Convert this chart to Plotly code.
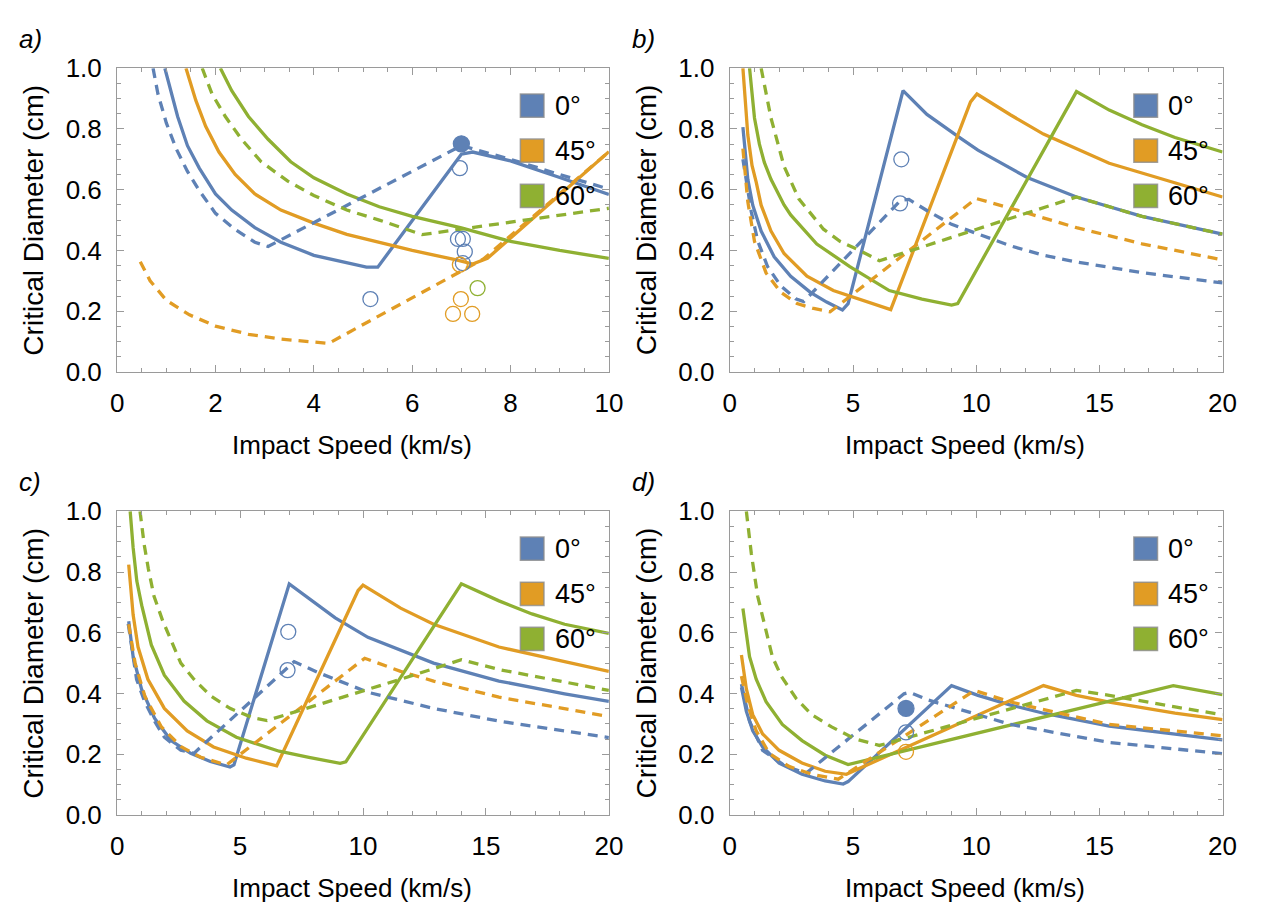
import plotly.graph_objects as go

BLUE = "#5E81B5"
ORANGE = "#E19C24"
GREEN = "#8FB032"
FONT = "Liberation Sans, Arial, sans-serif"

# ---------------- panel a ----------------
a_blue_solid_x = [0.97, 1.07, 1.23, 1.43, 1.67, 2.0, 2.33, 2.8, 3.33, 4.0, 4.67, 5.07, 5.3, 7.0, 7.23, 8.0, 9.0, 10.0]
a_blue_solid_y = [1.0, 0.936, 0.841, 0.745, 0.671, 0.586, 0.533, 0.475, 0.427, 0.384, 0.358, 0.345, 0.345, 0.717, 0.724, 0.695, 0.64, 0.584]
a_blue_dash_x = [0.73, 0.83, 1.0, 1.2, 1.43, 1.67, 2.0, 2.4, 2.8, 3.07, 7.0, 8.0, 9.0, 10.0]
a_blue_dash_y = [1.0, 0.915, 0.82, 0.735, 0.66, 0.597, 0.522, 0.469, 0.427, 0.413, 0.745, 0.70, 0.65, 0.602]
a_orange_solid_x = [1.4, 1.6, 1.8, 2.07, 2.4, 2.8, 3.33, 4.0, 4.67, 5.33, 6.0, 6.9, 7.23, 7.53, 10.0]
a_orange_solid_y = [1.0, 0.894, 0.809, 0.724, 0.65, 0.586, 0.533, 0.49, 0.453, 0.427, 0.40, 0.369, 0.355, 0.374, 0.725]
a_orange_dash_x = [0.47, 0.67, 1.0, 1.47, 2.0, 2.67, 3.33, 4.0, 4.3, 7.45, 10.0]
a_orange_dash_y = [0.363, 0.30, 0.236, 0.188, 0.151, 0.124, 0.108, 0.098, 0.094, 0.372, 0.725]
a_green_solid_x = [2.1, 2.33, 2.67, 3.07, 3.53, 4.0, 4.67, 5.33, 6.0, 7.0, 8.0, 9.0, 10.0]
a_green_solid_y = [1.0, 0.926, 0.841, 0.766, 0.692, 0.639, 0.586, 0.544, 0.512, 0.474, 0.43, 0.40, 0.374]
a_green_dash_x = [1.73, 1.93, 2.2, 2.53, 2.93, 3.47, 4.0, 4.67, 5.33, 6.0, 6.2, 10.0]
a_green_dash_y = [1.0, 0.915, 0.841, 0.766, 0.692, 0.628, 0.581, 0.533, 0.50, 0.462, 0.452, 0.539]
a_open_blue_x = [6.97, 6.93, 7.03, 7.07, 7.03, 5.15]
a_open_blue_y = [0.671, 0.438, 0.438, 0.396, 0.358, 0.240]
a_open_orange_x = [6.97, 6.99, 6.83, 7.22]
a_open_orange_y = [0.353, 0.240, 0.191, 0.191]
a_open_green_x = [7.33]
a_open_green_y = [0.276]
a_filled_blue_x = [7.0]
a_filled_blue_y = [0.751]

# ---------------- panel b ----------------
b_blue_solid_x = [0.53, 0.73, 0.93, 1.27, 1.8, 2.47, 3.27, 3.93, 4.57, 4.8, 7.03, 8.0, 9.27, 10.07, 12.07, 14.07, 16.73, 20.0]
b_blue_solid_y = [0.806, 0.634, 0.549, 0.464, 0.379, 0.315, 0.262, 0.23, 0.204, 0.225, 0.926, 0.848, 0.775, 0.73, 0.64, 0.576, 0.512, 0.454]
b_blue_dash_x = [0.53, 0.73, 0.87, 1.13, 1.53, 2.07, 2.67, 3.0, 6.93, 7.27, 8.07, 9.0, 10.07, 11.4, 12.73, 14.07, 16.73, 20.0]
b_blue_dash_y = [0.70, 0.60, 0.528, 0.432, 0.347, 0.283, 0.241, 0.232, 0.565, 0.568, 0.528, 0.486, 0.454, 0.415, 0.384, 0.362, 0.327, 0.293]
b_orange_solid_x = [0.53, 0.73, 0.9, 1.07, 1.27, 1.67, 2.2, 3.13, 4.2, 5.4, 6.53, 9.77, 10.03, 11.4, 12.73, 15.4, 18.07, 20.0]
b_orange_solid_y = [1.0, 0.78, 0.68, 0.625, 0.549, 0.464, 0.39, 0.315, 0.268, 0.236, 0.205, 0.889, 0.915, 0.846, 0.783, 0.687, 0.624, 0.576]
b_orange_dash_x = [0.53, 0.73, 1.0, 1.47, 2.07, 2.73, 3.4, 4.07, 10.0, 11.4, 14.07, 16.73, 20.0]
b_orange_dash_y = [0.735, 0.56, 0.43, 0.326, 0.262, 0.225, 0.209, 0.198, 0.571, 0.539, 0.475, 0.422, 0.369]
b_green_solid_x = [0.8, 1.0, 1.2, 1.4, 1.67, 2.2, 2.47, 3.53, 4.87, 6.47, 7.8, 9.0, 9.25, 14.07, 15.4, 16.73, 18.07, 20.0]
b_green_solid_y = [1.0, 0.836, 0.75, 0.69, 0.634, 0.55, 0.517, 0.421, 0.347, 0.268, 0.24, 0.22, 0.225, 0.923, 0.862, 0.814, 0.772, 0.724]
b_green_dash_x = [1.27, 1.5, 1.67, 2.2, 2.8, 3.8, 4.47, 5.27, 6.07, 9.8, 11.4, 14.07, 16.73, 20.0]
b_green_dash_y = [1.0, 0.90, 0.836, 0.677, 0.57, 0.47, 0.43, 0.40, 0.366, 0.464, 0.507, 0.576, 0.512, 0.454]
b_open_blue_x = [6.96, 6.91]
b_open_blue_y = [0.70, 0.555]

# ---------------- panel c ----------------
c_blue_solid_x = [0.47, 0.65, 0.99, 1.52, 2.19, 2.99, 3.79, 4.59, 4.75, 7.0, 8.87, 10.2, 12.87, 15.53, 18.2, 20.0]
c_blue_solid_y = [0.638, 0.521, 0.415, 0.319, 0.245, 0.203, 0.176, 0.158, 0.165, 0.761, 0.649, 0.585, 0.50, 0.441, 0.399, 0.374]
c_blue_dash_x = [0.45, 0.79, 1.12, 1.52, 1.92, 2.59, 3.12, 7.2, 8.2, 10.2, 12.87, 15.53, 20.0]
c_blue_dash_y = [0.63, 0.447, 0.373, 0.309, 0.256, 0.213, 0.203, 0.505, 0.468, 0.404, 0.351, 0.309, 0.255]
c_orange_solid_x = [0.47, 0.65, 0.85, 1.25, 1.92, 2.85, 3.92, 5.25, 6.49, 9.8, 10.0, 11.53, 12.87, 15.53, 18.2, 20.0]
c_orange_solid_y = [0.824, 0.659, 0.553, 0.447, 0.351, 0.277, 0.224, 0.187, 0.162, 0.739, 0.757, 0.681, 0.628, 0.553, 0.505, 0.473]
c_orange_dash_x = [0.47, 0.73, 1.13, 1.8, 2.6, 3.4, 4.45, 10.07, 11.53, 12.87, 15.53, 20.0]
c_orange_dash_y = [0.628, 0.50, 0.39, 0.29, 0.225, 0.19, 0.165, 0.516, 0.473, 0.441, 0.388, 0.324]
c_green_solid_x = [0.53, 0.65, 0.8, 1.0, 1.39, 1.92, 2.72, 3.65, 4.85, 6.59, 7.8, 9.07, 9.3, 14.0, 15.53, 16.87, 18.2, 20.0]
c_green_solid_y = [1.0, 0.88, 0.77, 0.69, 0.56, 0.46, 0.375, 0.31, 0.256, 0.21, 0.19, 0.17, 0.175, 0.761, 0.705, 0.662, 0.628, 0.598]
c_green_dash_x = [0.93, 1.1, 1.27, 1.5, 1.85, 2.19, 2.59, 3.12, 3.79, 4.59, 5.52, 6.1, 10.07, 11.53, 14.0, 15.53, 20.0]
c_green_dash_y = [1.0, 0.89, 0.81, 0.72, 0.64, 0.574, 0.50, 0.447, 0.393, 0.351, 0.32, 0.311, 0.41, 0.447, 0.511, 0.479, 0.41]
c_open_blue_x = [6.96, 6.93]
c_open_blue_y = [0.603, 0.477]

# ---------------- panel d ----------------
d_blue_solid_x = [0.47, 0.67, 0.93, 1.33, 2.0, 2.93, 3.87, 4.6, 4.8, 9.0, 10.07, 11.4, 12.73, 15.4, 18.07, 20.0]
d_blue_solid_y = [0.42, 0.341, 0.277, 0.224, 0.171, 0.134, 0.112, 0.102, 0.11, 0.426, 0.394, 0.362, 0.335, 0.293, 0.266, 0.247]
d_blue_dash_x = [0.47, 0.8, 1.33, 2.27, 3.1, 7.07, 7.3, 8.07, 10.07, 11.4, 15.4, 20.0]
d_blue_dash_y = [0.431, 0.309, 0.213, 0.16, 0.138, 0.399, 0.404, 0.378, 0.33, 0.298, 0.239, 0.202]
d_orange_solid_x = [0.47, 0.67, 0.93, 1.33, 2.0, 2.93, 3.87, 4.73, 12.73, 14.07, 15.4, 18.07, 20.0]
d_orange_solid_y = [0.527, 0.415, 0.33, 0.267, 0.213, 0.171, 0.144, 0.134, 0.426, 0.394, 0.372, 0.335, 0.314]
d_orange_dash_x = [0.47, 0.73, 1.07, 1.6, 2.4, 3.33, 4.4, 9.93, 11.4, 15.4, 20.0]
d_orange_dash_y = [0.457, 0.362, 0.277, 0.203, 0.16, 0.134, 0.118, 0.41, 0.372, 0.298, 0.261]
d_green_solid_x = [0.53, 0.8, 1.07, 1.47, 2.13, 2.93, 3.87, 4.8, 18.0, 20.0]
d_green_solid_y = [0.68, 0.521, 0.447, 0.373, 0.298, 0.245, 0.197, 0.166, 0.426, 0.396]
d_green_dash_x = [0.67, 0.87, 1.13, 1.5, 1.73, 2.1, 2.7, 3.33, 4.13, 5.07, 6.07, 14.07, 15.4, 18.07, 20.0]
d_green_dash_y = [1.0, 0.862, 0.72, 0.59, 0.52, 0.455, 0.383, 0.33, 0.29, 0.251, 0.229, 0.41, 0.394, 0.356, 0.33]
d_open_blue_x = [7.15]
d_open_blue_y = [0.272]
d_open_orange_x = [7.15]
d_open_orange_y = [0.208]
d_filled_blue_x = [7.15]
d_filled_blue_y = [0.351]

legend_labels = ["0°", "45°", "60°"]
panel_labels = ["a)", "b)", "c)", "d)"]
x_title = "Impact Speed (km/s)"
y_title = "Critical Diameter (cm)"

W, H = 1270, 919
fig = go.Figure()

def px_x(X):
    return X / W

def px_y(Y):
    return 1 - Y / H

panels = [
    dict(n="", xr=[0, 10], xd=2, xm=0.5, box=(112, 612, 55, 369)),
    dict(n="2", xr=[0, 20], xd=5, xm=1, box=(735, 1236, 55, 369)),
    dict(n="3", xr=[0, 20], xd=5, xm=1, box=(112, 612, 513, 827)),
    dict(n="4", xr=[0, 20], xd=5, xm=1, box=(735, 1236, 513, 827)),
]

lines = [
    [(a_blue_solid_x, a_blue_solid_y, BLUE, "solid"), (a_orange_solid_x, a_orange_solid_y, ORANGE, "solid"),
     (a_green_solid_x, a_green_solid_y, GREEN, "solid"), (a_blue_dash_x, a_blue_dash_y, BLUE, "dash"),
     (a_orange_dash_x, a_orange_dash_y, ORANGE, "dash"), (a_green_dash_x, a_green_dash_y, GREEN, "dash")],
    [(b_blue_solid_x, b_blue_solid_y, BLUE, "solid"), (b_orange_solid_x, b_orange_solid_y, ORANGE, "solid"),
     (b_green_solid_x, b_green_solid_y, GREEN, "solid"), (b_blue_dash_x, b_blue_dash_y, BLUE, "dash"),
     (b_orange_dash_x, b_orange_dash_y, ORANGE, "dash"), (b_green_dash_x, b_green_dash_y, GREEN, "dash")],
    [(c_blue_solid_x, c_blue_solid_y, BLUE, "solid"), (c_orange_solid_x, c_orange_solid_y, ORANGE, "solid"),
     (c_green_solid_x, c_green_solid_y, GREEN, "solid"), (c_blue_dash_x, c_blue_dash_y, BLUE, "dash"),
     (c_orange_dash_x, c_orange_dash_y, ORANGE, "dash"), (c_green_dash_x, c_green_dash_y, GREEN, "dash")],
    [(d_blue_solid_x, d_blue_solid_y, BLUE, "solid"), (d_orange_solid_x, d_orange_solid_y, ORANGE, "solid"),
     (d_green_solid_x, d_green_solid_y, GREEN, "solid"), (d_blue_dash_x, d_blue_dash_y, BLUE, "dash"),
     (d_orange_dash_x, d_orange_dash_y, ORANGE, "dash"), (d_green_dash_x, d_green_dash_y, GREEN, "dash")],
]

markers = [
    [(a_open_blue_x, a_open_blue_y, BLUE, False), (a_open_orange_x, a_open_orange_y, ORANGE, False),
     (a_open_green_x, a_open_green_y, GREEN, False), (a_filled_blue_x, a_filled_blue_y, BLUE, True)],
    [(b_open_blue_x, b_open_blue_y, BLUE, False)],
    [(c_open_blue_x, c_open_blue_y, BLUE, False)],
    [(d_open_blue_x, d_open_blue_y, BLUE, False), (d_open_orange_x, d_open_orange_y, ORANGE, False),
     (d_filled_blue_x, d_filled_blue_y, BLUE, True)],
]

layout = dict(
    width=W, height=H, margin=dict(l=0, r=0, t=0, b=0),
    paper_bgcolor="white", plot_bgcolor="white", showlegend=False,
    font=dict(family=FONT, size=26, color="black"),
)
annotations = []
shapes = []
FRAME = "#9a9a9a"

for i, p in enumerate(panels):
    n = p["n"]
    xref = "x" + n
    yref = "y" + n
    x0, x1, y0, y1 = p["box"]
    for (xs, ys, col, dash) in lines[i]:
        fig.add_trace(go.Scatter(
            x=xs, y=ys, mode="lines", xaxis=xref, yaxis=yref,
            line=dict(color=col, width=3.3, dash="solid" if dash == "solid" else "10px,7px"),
            hoverinfo="skip"))
    for (xs, ys, col, filled) in markers[i]:
        fig.add_trace(go.Scatter(
            x=xs, y=ys, mode="markers", xaxis=xref, yaxis=yref,
            marker=dict(symbol="circle" if filled else "circle-open", size=16 if filled else 15,
                        color=col, line=dict(color=col, width=1.3)),
            hoverinfo="skip"))
    common = dict(showgrid=False, zeroline=False, showline=True, linecolor=FRAME, linewidth=1.3,
                  mirror="allticks", ticks="inside", ticklen=7, tickwidth=1, tickcolor=FRAME,
                  tickfont=dict(family=FONT, size=26, color="black"))
    layout["xaxis" + n] = dict(common, domain=[px_x(x0), px_x(x1)], range=p["xr"], dtick=p["xd"], tick0=0,
                               anchor=yref, ticklabelstandoff=8,
                               minor=dict(ticks="inside", ticklen=4, dtick=p["xm"], tickcolor=FRAME, tickwidth=1))
    layout["yaxis" + n] = dict(common, domain=[px_y(y1), px_y(y0)], range=[0, 1], dtick=0.2, tick0=0,
                               tickformat=".1f", anchor=xref, ticklabelstandoff=9,
                               minor=dict(ticks="inside", ticklen=4, dtick=0.05, tickcolor=FRAME, tickwidth=1))
    # legend
    sq_top = [26.7, 73.3, 120.0]
    for k, (lab, col) in enumerate(zip(legend_labels, [BLUE, ORANGE, GREEN])):
        shapes.append(dict(type="rect", xref=xref + " domain", yref=yref + " domain",
                           x0=1 - 90 / 500, x1=1 - 66 / 500,
                           y0=1 - (sq_top[k] + 24) / 314, y1=1 - sq_top[k] / 314,
                           fillcolor=col, line=dict(color="rgba(140,140,140,0.8)", width=1.5), layer="above"))
        annotations.append(dict(text=lab, xref=xref + " domain", yref=yref + " domain",
                                x=1 - 57 / 500, y=1 - (sq_top[k] + 12) / 314, xanchor="left", yanchor="middle",
                                showarrow=False, font=dict(family=FONT, size=27, color="black")))
    # panel label
    annotations.append(dict(text="<i>" + panel_labels[i] + "</i>", xref="paper", yref="paper",
                            x=px_x(x0 - 102), y=px_y(y0 - 30), xanchor="left", yanchor="middle",
                            showarrow=False, font=dict(family=FONT, size=26, color="black")))
    # axis titles
    annotations.append(dict(text=x_title, xref="paper", yref="paper",
                            x=px_x((x0 + x1) / 2 - 11), y=px_y(y1 + 75), xanchor="center", yanchor="middle",
                            showarrow=False, font=dict(family=FONT, size=26, color="black")))
    annotations.append(dict(text=y_title, xref="paper", yref="paper", textangle=-90,
                            x=px_x(x0 - 85), y=px_y((y0 + y1) / 2), xanchor="center", yanchor="middle",
                            showarrow=False, font=dict(family=FONT, size=28, color="black")))

layout["annotations"] = annotations
layout["shapes"] = shapes
fig.update_layout(**layout)
fig.write_html("out.html")
